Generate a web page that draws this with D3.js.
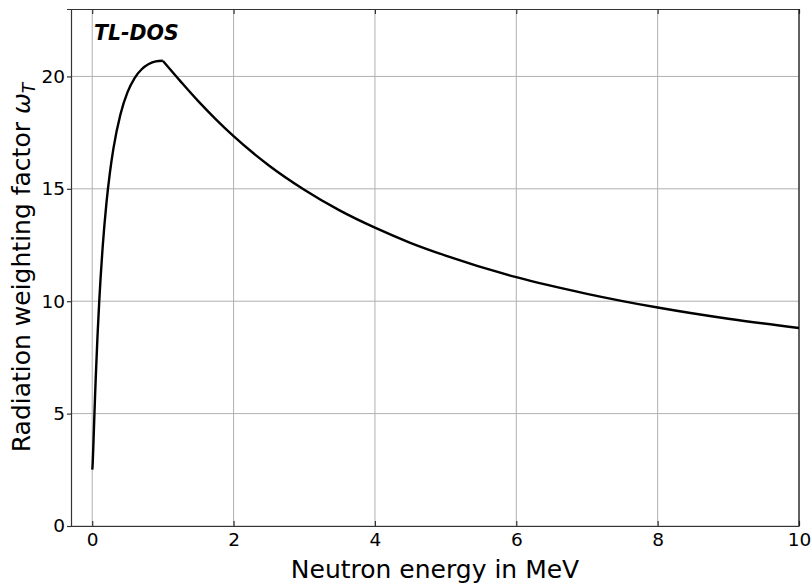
<!DOCTYPE html>
<html>
<head>
<meta charset="utf-8">
<script src="https://cdn.jsdelivr.net/npm/d3@7"></script>
<style>
  body { margin: 0; background: #fff; }
  svg { font-family: "DejaVu Sans", sans-serif; }
</style>
</head>
<body>
<div id="chart"></div>
<script>
// neutron energy (MeV) and weighting factor
const energyLow = [0.001, 0.005, 0.01, 0.015, 0.02, 0.03, 0.04, 0.05, 0.075, 0.1, 0.15, 0.2, 0.25, 0.3, 0.4, 0.5, 0.6, 0.7, 0.8, 0.9, 1.0];
const weightLow = [2.51, 2.67, 3.03, 3.46, 3.92, 4.84, 5.74, 6.58, 8.45, 10.02, 12.49, 14.32, 15.71, 16.79, 18.32, 19.30, 19.93, 20.32, 20.55, 20.67, 20.70];
const energyHigh = [1.0, 1.25, 1.5, 1.75, 2, 2.5, 3, 3.5, 4, 4.5, 5, 6, 7, 8, 9, 10];
const weightHigh = [20.69, 19.78, 18.90, 18.09, 17.34, 16.04, 14.96, 14.04, 13.27, 12.60, 12.03, 11.07, 10.33, 9.72, 9.22, 8.81];

const xTicks = [0, 2, 4, 6, 8, 10];
const yTicks = [0, 5, 10, 15, 20];

const width = 812, height = 585;
const margin = { left: 71, right: 13, top: 9, bottom: 59 };

const svg = d3.select("#chart").append("svg")
  .attr("width", width)
  .attr("height", height);

const x = d3.scaleLinear()
  .domain([-0.3, 10])
  .range([margin.left, width - margin.right]);

const y = d3.scaleLinear()
  .domain([0, 23])
  .range([height - margin.bottom, margin.top]);

// grid
svg.append("g")
  .selectAll("line")
  .data(xTicks)
  .join("line")
  .attr("x1", d => x(d)).attr("x2", d => x(d))
  .attr("y1", y(0)).attr("y2", y(23))
  .attr("stroke", "#b0b0b0").attr("stroke-width", 1);

svg.append("g")
  .selectAll("line")
  .data(yTicks)
  .join("line")
  .attr("x1", x(-0.3)).attr("x2", x(10))
  .attr("y1", d => y(d)).attr("y2", d => y(d))
  .attr("stroke", "#b0b0b0").attr("stroke-width", 1);

// axes
const xAxis = svg.append("g")
  .attr("transform", `translate(0,${y(0)})`)
  .call(d3.axisBottom(x).tickValues(xTicks).tickSizeInner(-5).tickSizeOuter(0).tickPadding(7));

const xTop = svg.append("g")
  .attr("transform", `translate(0,${y(23)})`)
  .call(d3.axisTop(x).tickValues(xTicks).tickSizeInner(-5).tickSizeOuter(0).tickFormat(""));

const yAxis = svg.append("g")
  .attr("transform", `translate(${x(-0.3)},0)`)
  .call(d3.axisLeft(y).tickValues(yTicks).tickSize(4).tickPadding(2));

svg.append("line")
  .attr("x1", x(10)).attr("x2", x(10))
  .attr("y1", y(0)).attr("y2", y(23))
  .attr("stroke", "#111").attr("stroke-width", 1.2);

[xAxis, xTop, yAxis].forEach(g => {
  g.select(".domain").attr("stroke", "#333").attr("stroke-width", 1.2);
  g.selectAll(".tick line").attr("stroke", "#333").attr("stroke-width", 1.2);
  g.selectAll(".tick text")
    .attr("fill", "#000")
    .style("font-size", "18.5px")
    .style("font-family", "DejaVu Sans");
});

// curve, two branches so the kink at 1 MeV stays sharp
const line = d3.line()
  .x(d => x(d[0]))
  .y(d => y(d[1]))
  .curve(d3.curveMonotoneX);

[[energyLow, weightLow], [energyHigh, weightHigh]].forEach(([e, w]) => {
  svg.append("path")
    .datum(e.map((v, i) => [v, w[i]]))
    .attr("fill", "none")
    .attr("stroke", "#000")
    .attr("stroke-width", 2.4)
    .attr("stroke-linejoin", "round")
    .attr("d", line);
});

// label box
svg.append("text")
  .attr("x", 94).attr("y", 40)
  .style("font-size", "20.5px")
  .style("font-weight", "bold")
  .style("font-style", "italic")
  .text("TL-DOS");

// axis titles
svg.append("text")
  .attr("x", (x(-0.3) + x(10)) / 2)
  .attr("y", 578)
  .attr("text-anchor", "middle")
  .style("font-size", "25px")
  .text("Neutron energy in MeV");

const yl = svg.append("text")
  .attr("transform", `translate(30,${(y(0) + y(23)) / 2}) rotate(-90)`)
  .attr("text-anchor", "middle")
  .style("font-size", "25px");
yl.append("tspan").text("Radiation weighting factor ");
yl.append("tspan").style("font-style", "italic").text("\u03C9");
yl.append("tspan").style("font-style", "italic").style("font-size", "17px").attr("dy", 5).text("T");
</script>
</body>
</html>
